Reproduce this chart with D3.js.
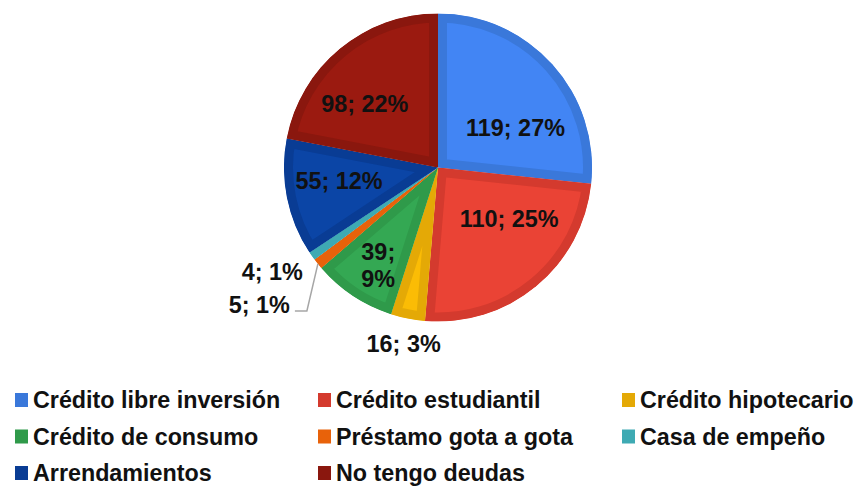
<!DOCTYPE html>
<html>
<head>
<meta charset="utf-8">
<script src="https://cdn.jsdelivr.net/npm/d3@7"></script>
<style>
  body { margin: 0; background: #fff; }
  text { font-family: "Liberation Sans", Arial, sans-serif; font-weight: bold; }
</style>
</head>
<body>
<script>
// Data
var categories = ["Crédito libre inversión", "Crédito estudiantil", "Crédito hipotecario",
  "Crédito de consumo", "Préstamo gota a gota", "Casa de empeño",
  "Arrendamientos", "No tengo deudas"];
var values = [119, 110, 16, 39, 5, 4, 55, 98];
var percents = ["27%", "25%", "3%", "9%", "1%", "1%", "12%", "22%"];

// fill / border colours per slice
var fills = ["#4285F4", "#EA4335", "#FBBC05", "#34A853", "#FF6D01", "#46BDC6", "#0B45A6", "#9B1A10"];
var borders = ["#3A78DA", "#D43A2E", "#E4A906", "#2F9A4A", "#E8620A", "#3EAAB3", "#093C94", "#8A170E"];

// label placement: angle (deg, clockwise from top) and distance from centre
var labelAngle = [63, 126, 191, 211.6, 0, 0, 262, 311];
var labelDist = [87, 88, 180, 114, 0, 0, 100, 97];

var width = 858, height = 487;
var cx = 438, cy = 167.5, radius = 154;

var svg = d3.select("body").append("svg")
  .attr("width", width)
  .attr("height", height);

var pie = d3.pie().sort(null).value(function (d) { return d; });
var arcs = pie(values);

var arc = d3.arc().innerRadius(0).outerRadius(radius);

var g = svg.append("g").attr("transform", "translate(" + cx + "," + cy + ")");
var defs = svg.append("defs");

defs.selectAll("clipPath")
  .data(arcs)
  .enter()
  .append("clipPath")
  .attr("id", function (d, i) { return "clip" + i; })
  .append("path")
  .attr("d", arc);

// slices with inset border
g.selectAll("path.slice")
  .data(arcs)
  .enter()
  .append("path")
  .attr("class", "slice")
  .attr("d", arc)
  .attr("fill", function (d, i) { return fills[i]; })
  .attr("stroke", function (d, i) { return borders[i]; })
  .attr("stroke-width", 18)
  .attr("stroke-linejoin", "miter")
  .attr("clip-path", function (d, i) { return "url(#clip" + i + ")"; });

function polar(angleDeg, dist) {
  var a = angleDeg * Math.PI / 180;
  return [dist * Math.sin(a), -dist * Math.cos(a)];
}

var fs = 23.4;

// inside labels
arcs.forEach(function (d, i) {
  if (labelDist[i] === 0) return;
  var p = polar(labelAngle[i], labelDist[i]);
  var t = g.append("text")
    .attr("text-anchor", "middle")
    .attr("font-size", fs + "px")
    .attr("fill", "#111");
  if (values[i] === 39) {
    t.append("tspan").attr("x", p[0]).attr("y", p[1] - 5).text(values[i] + ";");
    t.append("tspan").attr("x", p[0]).attr("y", p[1] + 22).text(percents[i]);
  } else {
    t.attr("x", p[0]).attr("y", p[1] + 8).text(values[i] + "; " + percents[i]);
  }
});

// outside labels for the two smallest slices
var orange = arcs[4];
var mid = (orange.startAngle + orange.endAngle) / 2;
var edge = [radius * Math.sin(mid), -radius * Math.cos(mid)];
var elbow = [edge[0] - 11, edge[1] + 47];
g.append("polyline")
  .attr("points", [edge, elbow, [elbow[0] - 12, elbow[1]]].map(function (p) { return p.join(","); }).join(" "))
  .attr("fill", "none")
  .attr("stroke", "#a6a6a6")
  .attr("stroke-width", 1.5);

g.append("text")
  .attr("x", elbow[0] - 17)
  .attr("y", elbow[1] + 2)
  .attr("text-anchor", "end")
  .attr("font-size", fs + "px")
  .attr("fill", "#111")
  .text(values[4] + "; " + percents[4]);

g.append("text")
  .attr("x", elbow[0] - 4)
  .attr("y", elbow[1] - 31)
  .attr("text-anchor", "end")
  .attr("font-size", fs + "px")
  .attr("fill", "#111")
  .text(values[5] + "; " + percents[5]);

// legend
var colX = [15, 318, 622];
var rowY = [408, 444.5, 481];
var legend = svg.selectAll("g.legend")
  .data(categories)
  .enter()
  .append("g")
  .attr("class", "legend")
  .attr("transform", function (d, i) {
    return "translate(" + colX[i % 3] + "," + rowY[Math.floor(i / 3)] + ")";
  });

legend.append("rect")
  .attr("x", 0)
  .attr("y", -15)
  .attr("width", 13)
  .attr("height", 14)
  .attr("fill", function (d, i) { return borders[i]; });

legend.append("text")
  .attr("x", 18)
  .attr("y", 0)
  .attr("font-size", "23.3px")
  .attr("fill", "#111")
  .text(function (d) { return d; });
</script>
</body>
</html>
